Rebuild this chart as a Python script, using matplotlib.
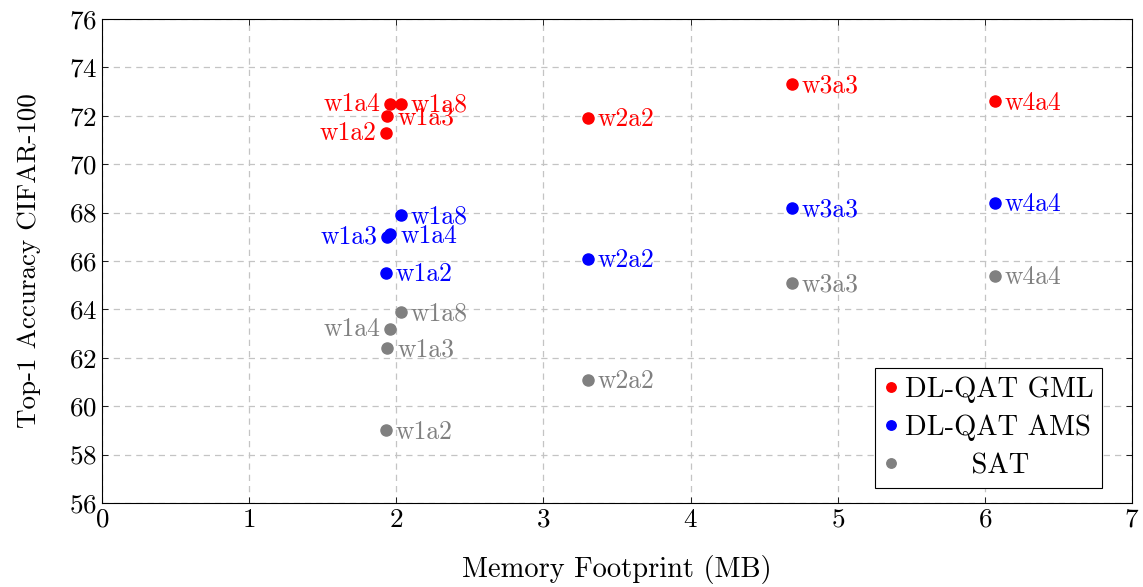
import matplotlib
matplotlib.use("Agg")
import matplotlib.pyplot as plt

# -----------------------------
# DATA
# -----------------------------
configs = ["w1a2", "w1a3", "w1a4", "w1a8", "w2a2", "w3a3", "w4a4"]
memory_mb = [1.93, 1.94, 1.96, 2.03, 3.30, 4.69, 6.07]

acc_gml = [71.3, 72.0, 72.5, 72.5, 71.9, 73.3, 72.6]
acc_ams = [65.5, 67.0, 67.1, 67.9, 66.1, 68.2, 68.4]
acc_sat = [59.0, 62.4, 63.2, 63.9, 61.1, 65.1, 65.4]

# labels that sit on the left of their point
left_gml = ["w1a2", "w1a4"]
left_ams = ["w1a3"]
left_sat = ["w1a4"]

series = [
    ("DL-QAT GML", acc_gml, left_gml, "red"),
    ("DL-QAT AMS", acc_ams, left_ams, "blue"),
    ("SAT", acc_sat, left_sat, "gray"),
]

# -----------------------------
# STYLE
# -----------------------------
plt.rcParams["font.family"] = ["cmr10", "DejaVu Serif"]
plt.rcParams["mathtext.fontset"] = "cm"
plt.rcParams["axes.formatter.use_mathtext"] = True

fig = plt.figure(figsize=(11.43, 5.87), dpi=100)
ax = fig.add_axes([0.0892, 0.1431, 0.9012, 0.8245])

for name, acc, left, color in series:
    # pad SAT so it sits centred in the legend like pgfplots does
    label = name if name != "SAT" else "       SAT"
    ax.plot(memory_mb, acc, "o", color=color, ms=8, ls="none", label=label, zorder=3)
    for cfg, x, y in zip(configs, memory_mb, acc):
        if cfg in left:
            ax.annotate(cfg, (x, y), xytext=(-7, 0), textcoords="offset points",
                        ha="right", va="center", color=color, fontsize=18.5)
        else:
            ax.annotate(cfg, (x, y), xytext=(7, -1), textcoords="offset points",
                        ha="left", va="center", color=color, fontsize=18.5)

ax.set_xlim(0, 7)
ax.set_ylim(56, 76)
ax.set_xticks(range(0, 8))
ax.set_yticks(range(56, 77, 2))
ax.tick_params(direction="in", top=True, right=True, labelsize=19.5, length=4, width=0.6)
ax.grid(True, linestyle=(0, (5, 4)), color="#c4c4c4", linewidth=0.9)
ax.set_axisbelow(True)
for s in ax.spines.values():
    s.set_linewidth(0.8)

ax.set_xlabel("Memory Footprint (MB)", fontsize=20.5, labelpad=17)
ax.set_ylabel("Top-1 Accuracy CIFAR-100", fontsize=19.5, labelpad=20)

leg = ax.legend(loc="lower right", bbox_to_anchor=(0.971, 0.031), borderaxespad=0,
                fontsize=20.5, handlelength=0.5, handletextpad=0.25,
                borderpad=0.3, labelspacing=0.42, fancybox=False, framealpha=1,
                edgecolor="black", markerscale=0.85)
leg.get_frame().set_linewidth(0.8)

fig.savefig("out.png", dpi=100)
